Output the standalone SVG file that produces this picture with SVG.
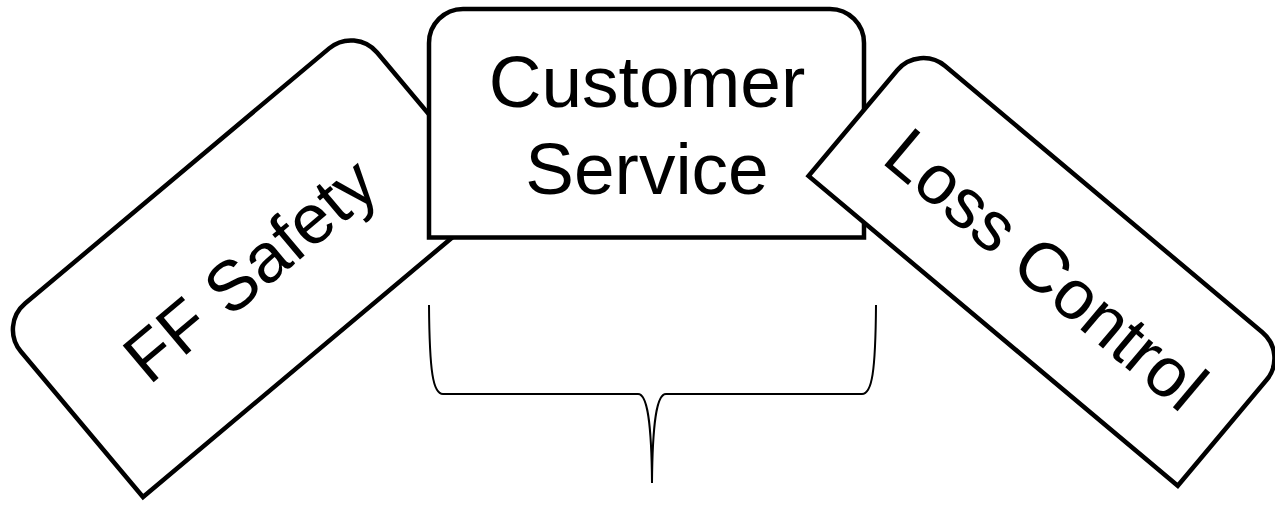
<svg xmlns="http://www.w3.org/2000/svg" width="1275" height="506" viewBox="0 0 1275 506">
  <style>
    .box { fill: #ffffff; stroke: #000000; stroke-width: 4.5; stroke-linejoin: miter; }
    .lbl { font-family: "Liberation Sans", Arial, sans-serif; fill: #000000; text-anchor: middle; }
    .brace { fill: none; stroke: #000000; stroke-width: 2; }
  </style>
  <rect width="1275" height="506" fill="#ffffff"/>
  <g id="node-ff-safety" transform="translate(-1,325.4) rotate(-40)">
    <path class="box" d="M0,224 V34 A34,34 0 0 1 34,0 H431 A34,34 0 0 1 465,34 V224 Z"/>
    <text class="lbl" x="228" y="143" font-size="70">FF Safety</text>
  </g>
  <g id="node-customer-service">
    <path class="box" d="M429,237.5 V43 A34,34 0 0 1 463,9 H830 A34,34 0 0 1 864,43 V237.5 Z"/>
    <text class="lbl" x="647" y="107" font-size="73">Customer</text>
    <text class="lbl" x="647" y="194" font-size="73">Service</text>
  </g>
  <g id="node-loss-control" transform="translate(919.1,44.2) rotate(40)">
    <path class="box" d="M0,172 V34 A34,34 0 0 1 34,0 H448 A34,34 0 0 1 482,34 V172 Z"/>
    <text class="lbl" x="242" y="115" font-size="70">Loss Control</text>
  </g>
  <g id="brace">
    <path class="brace" d="M429,305 C429.5,372 433,394 443,394 L638,394 C647,394 651.5,420 652,483 C652.5,420 657,394 666,394 L862,394 C872,394 875.5,372 876,305"/>
  </g>
</svg>
